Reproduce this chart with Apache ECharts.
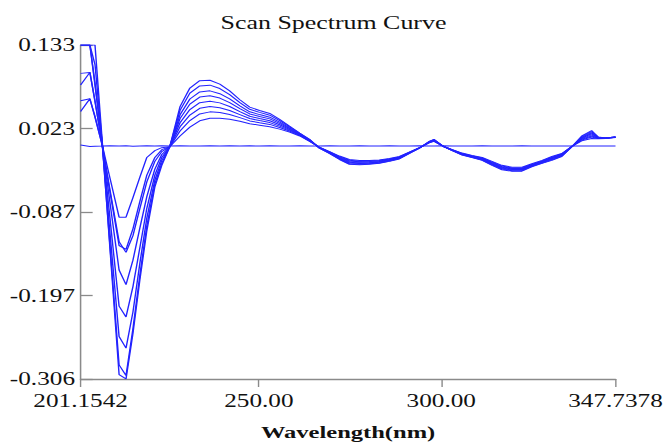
<!DOCTYPE html>
<html>
<head>
<meta charset="utf-8">
<script src="https://cdn.jsdelivr.net/npm/echarts@6/dist/echarts.min.js"></script>
<style>
  html, body { margin: 0; padding: 0; background: #fff; overflow: hidden; }
  /* The plot is laid out narrower and widened horizontally, giving the broad serif lettering */
  #chart { width: 476px; height: 446px; transform: scaleX(1.40126); transform-origin: 0 0; }
</style>
</head>
<body>
<div id="chart"></div>
<script>
// Wavelength nodes (nm)
const wavelengths = [201.1542, 203.7, 205.1, 207.0, 209.2, 211.7, 213.6, 215.5, 217.4, 219.3,
  221.5, 223.4, 225.6, 228.4, 231.1, 233.8, 236.6, 239.3, 242.0, 244.8,
  247.5, 250.2, 253.0, 255.7, 258.4, 261.2, 263.9, 266.6, 269.4, 272.1,
  274.8, 277.6, 280.3, 283.0, 285.8, 288.5, 291.2, 294.0, 296.7, 298.0,
  300.5, 303.0, 305.7, 308.4, 311.2, 313.9, 316.6, 319.4, 322.1, 324.8,
  327.6, 330.3, 333.0, 335.8, 338.5, 341.2, 343.0, 345.0, 347.7378];

// Scan curves, weakest to strongest
const scan1 = [0.0453, 0.0620, 0.0376, 0.0028, -0.0422, -0.0936, -0.0936, -0.0679, -0.0409, -0.0152,
  -0.0062, -0.0023, -0.0010, 0.0131, 0.0247, 0.0331, 0.0363, 0.0363, 0.0350, 0.0324,
  0.0292, 0.0273, 0.0253, 0.0221, 0.0183, 0.0131, 0.0060, -0.0017, -0.0075, -0.0133,
  -0.0178, -0.0190, -0.0190, -0.0184, -0.0165, -0.0139, -0.0081, -0.0023, 0.0041, 0.0060,
  -0.0004, -0.0049, -0.0094, -0.0126, -0.0152, -0.0203, -0.0255, -0.0280, -0.0280, -0.0235,
  -0.0190, -0.0139, -0.0100, -0.0004, 0.0067, 0.0099, 0.0093, 0.0099, 0.0112];
const scan2 = [0.0594, 0.0620, 0.0388, 0.0028, -0.0602, -0.1309, -0.1361, -0.1090, -0.0730, -0.0383,
  -0.0152, -0.0049, -0.0010, 0.0197, 0.0334, 0.0421, 0.0448, 0.0440, 0.0413, 0.0372,
  0.0329, 0.0306, 0.0283, 0.0243, 0.0196, 0.0138, 0.0064, -0.0019, -0.0079, -0.0141,
  -0.0189, -0.0200, -0.0199, -0.0192, -0.0171, -0.0144, -0.0084, -0.0024, 0.0044, 0.0064,
  -0.0004, -0.0051, -0.0098, -0.0130, -0.0158, -0.0212, -0.0265, -0.0289, -0.0289, -0.0242,
  -0.0197, -0.0148, -0.0107, -0.0005, 0.0078, 0.0117, 0.0097, 0.0100, 0.0113];
const scan3 = [0.0800, 0.0967, 0.0581, 0.0041, -0.0576, -0.1258, -0.1399, -0.1180, -0.0820, -0.0473,
  -0.0203, -0.0075, -0.0010, 0.0251, 0.0406, 0.0494, 0.0518, 0.0503, 0.0466, 0.0412,
  0.0360, 0.0333, 0.0307, 0.0261, 0.0207, 0.0143, 0.0068, -0.0021, -0.0083, -0.0147,
  -0.0198, -0.0208, -0.0206, -0.0198, -0.0177, -0.0149, -0.0087, -0.0025, 0.0047, 0.0068,
  -0.0004, -0.0053, -0.0102, -0.0134, -0.0164, -0.0219, -0.0273, -0.0296, -0.0296, -0.0247,
  -0.0202, -0.0155, -0.0112, -0.0006, 0.0087, 0.0131, 0.0101, 0.0101, 0.0114];
const scan4 = [0.0954, 0.0967, 0.0594, 0.0041, -0.0743, -0.1631, -0.1823, -0.1502, -0.1078, -0.0666,
  -0.0306, -0.0113, -0.0010, 0.0305, 0.0478, 0.0568, 0.0588, 0.0566, 0.0518, 0.0451,
  0.0390, 0.0360, 0.0331, 0.0279, 0.0218, 0.0149, 0.0072, -0.0023, -0.0086, -0.0153,
  -0.0207, -0.0216, -0.0213, -0.0204, -0.0182, -0.0153, -0.0090, -0.0026, 0.0050, 0.0072,
  -0.0004, -0.0055, -0.0106, -0.0138, -0.0169, -0.0226, -0.0281, -0.0303, -0.0303, -0.0253,
  -0.0208, -0.0162, -0.0118, -0.0007, 0.0096, 0.0145, 0.0104, 0.0102, 0.0115];
const scan5 = [0.1327, 0.1327, 0.0800, 0.0067, -0.0949, -0.2106, -0.2248, -0.1849, -0.1335, -0.0820,
  -0.0383, -0.0152, -0.0010, 0.0359, 0.0550, 0.0642, 0.0659, 0.0629, 0.0570, 0.0491,
  0.0421, 0.0387, 0.0356, 0.0297, 0.0228, 0.0154, 0.0075, -0.0025, -0.0090, -0.0160,
  -0.0216, -0.0224, -0.0221, -0.0211, -0.0187, -0.0158, -0.0092, -0.0027, 0.0052, 0.0075,
  -0.0004, -0.0057, -0.0109, -0.0141, -0.0174, -0.0234, -0.0289, -0.0311, -0.0311, -0.0258,
  -0.0213, -0.0169, -0.0123, -0.0008, 0.0105, 0.0160, 0.0108, 0.0103, 0.0116];
const scan6 = [0.1327, 0.1327, 0.0826, 0.0067, -0.1142, -0.2505, -0.2659, -0.2184, -0.1541, -0.0949,
  -0.0448, -0.0190, -0.0010, 0.0409, 0.0617, 0.0710, 0.0724, 0.0687, 0.0619, 0.0528,
  0.0449, 0.0412, 0.0378, 0.0314, 0.0238, 0.0159, 0.0079, -0.0026, -0.0093, -0.0165,
  -0.0224, -0.0232, -0.0227, -0.0216, -0.0192, -0.0162, -0.0095, -0.0028, 0.0055, 0.0079,
  -0.0004, -0.0058, -0.0113, -0.0145, -0.0179, -0.0240, -0.0297, -0.0317, -0.0317, -0.0263,
  -0.0218, -0.0176, -0.0128, -0.0008, 0.0113, 0.0173, 0.0111, 0.0103, 0.0116];
const scan7 = [0.1327, 0.1327, 0.1070, 0.0080, -0.1309, -0.2878, -0.3019, -0.2402, -0.1695, -0.1052,
  -0.0499, -0.0229, -0.0010, 0.0467, 0.0694, 0.0789, 0.0799, 0.0755, 0.0675, 0.0570,
  0.0482, 0.0441, 0.0404, 0.0333, 0.0250, 0.0165, 0.0083, -0.0028, -0.0097, -0.0172,
  -0.0234, -0.0240, -0.0235, -0.0223, -0.0198, -0.0167, -0.0098, -0.0029, 0.0058, 0.0083,
  -0.0004, -0.0060, -0.0117, -0.0149, -0.0185, -0.0248, -0.0305, -0.0325, -0.0325, -0.0269,
  -0.0224, -0.0183, -0.0134, -0.0009, 0.0123, 0.0189, 0.0115, 0.0104, 0.0117];
const scan8 = [0.1327, 0.1327, 0.1327, 0.0118, -0.1348, -0.3006, -0.3064, -0.2466, -0.1759, -0.1116,
  -0.0538, -0.0255, -0.0010, 0.0517, 0.0761, 0.0858, 0.0864, 0.0813, 0.0723, 0.0607,
  0.0510, 0.0466, 0.0427, 0.0350, 0.0260, 0.0170, 0.0086, -0.0030, -0.0100, -0.0178,
  -0.0242, -0.0248, -0.0242, -0.0229, -0.0203, -0.0171, -0.0100, -0.0030, 0.0060, 0.0086,
  -0.0004, -0.0062, -0.0120, -0.0152, -0.0190, -0.0255, -0.0313, -0.0332, -0.0332, -0.0274,
  -0.0229, -0.0190, -0.0139, -0.0010, 0.0131, 0.0202, 0.0118, 0.0105, 0.0118];
// Blank / reference scan
const blank = [0.0012, -0.0006, -0.0003, -0.0001, 0.0002, -0.0002, 0.0001, -0.0003, 0.0000, 0.0002,
  -0.0002, 0.0001, -0.0001, 0.0002, -0.0002, 0.0000, 0.0002, -0.0001, 0.0001, -0.0002,
  0.0001, -0.0001, 0.0002, 0.0000, -0.0002, 0.0001, -0.0001, 0.0000, 0.0001, -0.0001,
  0.0000, 0.0001, -0.0001, 0.0000, 0.0001, -0.0001, 0.0000, 0.0001, -0.0001, 0.0000,
  0.0001, -0.0001, 0.0000, 0.0000, 0.0001, -0.0001, 0.0000, 0.0000, 0.0001, -0.0001,
  0.0000, 0.0000, -0.0001, 0.0000, 0.0000, -0.0001, 0.0000, -0.0001, -0.0001];

// Axis ranges and tick labels
const xMin = 201.1542, xMax = 347.7378;
const xTickValues = [201.1542, 250, 300, 347.7378];
const xTickLabels = ['201.1542', '250.00', '300.00', '347.7378'];
const yMin = -0.30642, yMax = 0.1327;
const yTickValues = [0.1327, 0.02292, -0.08686, -0.19664, -0.30642];
const yTickLabels = ['0.133', '0.023', '-0.087', '-0.197', '-0.306'];

const scans = [scan1, scan2, scan3, scan4, scan5, scan6, scan7, scan8, blank];

const FONT = '"Liberation Serif", "Times New Roman", serif';
const AXIS_GREY = '#8a8a8a';
const LINE_BLUE = '#2323ff';

function pickLabel(values, labels, v) {
  let best = 0;
  for (let i = 1; i < values.length; i++) {
    if (Math.abs(values[i] - v) < Math.abs(values[best] - v)) best = i;
  }
  return labels[best];
}

const chart = echarts.init(document.getElementById('chart'), null, { renderer: 'svg' });
chart.setOption({
  animation: false,
  backgroundColor: '#fff',
  title: {
    text: 'Scan Spectrum Curve',
    left: 'center',
    top: 13.5,
    padding: [0, 0, 0, 20],
    textStyle: { fontFamily: FONT, fontSize: 18.5, fontWeight: 'normal', color: '#111' }
  },
  grid: { left: 57.52, right: 36.25, top: 45, bottom: 59.3, containLabel: false },
  xAxis: {
    type: 'value',
    min: xMin,
    max: xMax,
    name: 'Wavelength(nm)',
    nameLocation: 'middle',
    nameGap: 44,
    nameTextStyle: { fontFamily: FONT, fontSize: 17.5, fontWeight: 'bold', color: '#111' },
    axisLine: { show: true, onZero: false, lineStyle: { color: AXIS_GREY, width: 1.3 } },
    axisTick: { show: true, inside: false, length: 8, customValues: xTickValues,
      lineStyle: { color: AXIS_GREY, width: 1 } },
    axisLabel: {
      customValues: xTickValues,
      margin: 13,
      fontFamily: FONT, fontSize: 18, color: '#111',
      formatter: v => pickLabel(xTickValues, xTickLabels, v)
    },
    splitLine: { show: false }
  },
  yAxis: {
    type: 'value',
    min: yMin,
    max: yMax,
    axisLine: { show: true, onZero: false, lineStyle: { color: AXIS_GREY, width: 1.1 } },
    axisTick: { show: true, inside: true, length: 8.6, customValues: yTickValues,
      lineStyle: { color: AXIS_GREY, width: 1.3 } },
    axisLabel: {
      customValues: yTickValues,
      margin: 4,
      fontFamily: FONT, fontSize: 18, color: '#111',
      formatter: v => pickLabel(yTickValues, yTickLabels, v)
    },
    splitLine: { show: false }
  },
  series: scans.map((vals, i) => ({
    name: i < 8 ? 'Scan ' + (i + 1) : 'Blank',
    type: 'line',
    data: wavelengths.map((w, j) => [w, vals[j]]),
    showSymbol: false,
    symbol: 'none',
    smooth: false,
    clip: true,
    lineStyle: { color: LINE_BLUE, width: 1 },
    emphasis: { disabled: true }
  }))
});
</script>
</body>
</html>
